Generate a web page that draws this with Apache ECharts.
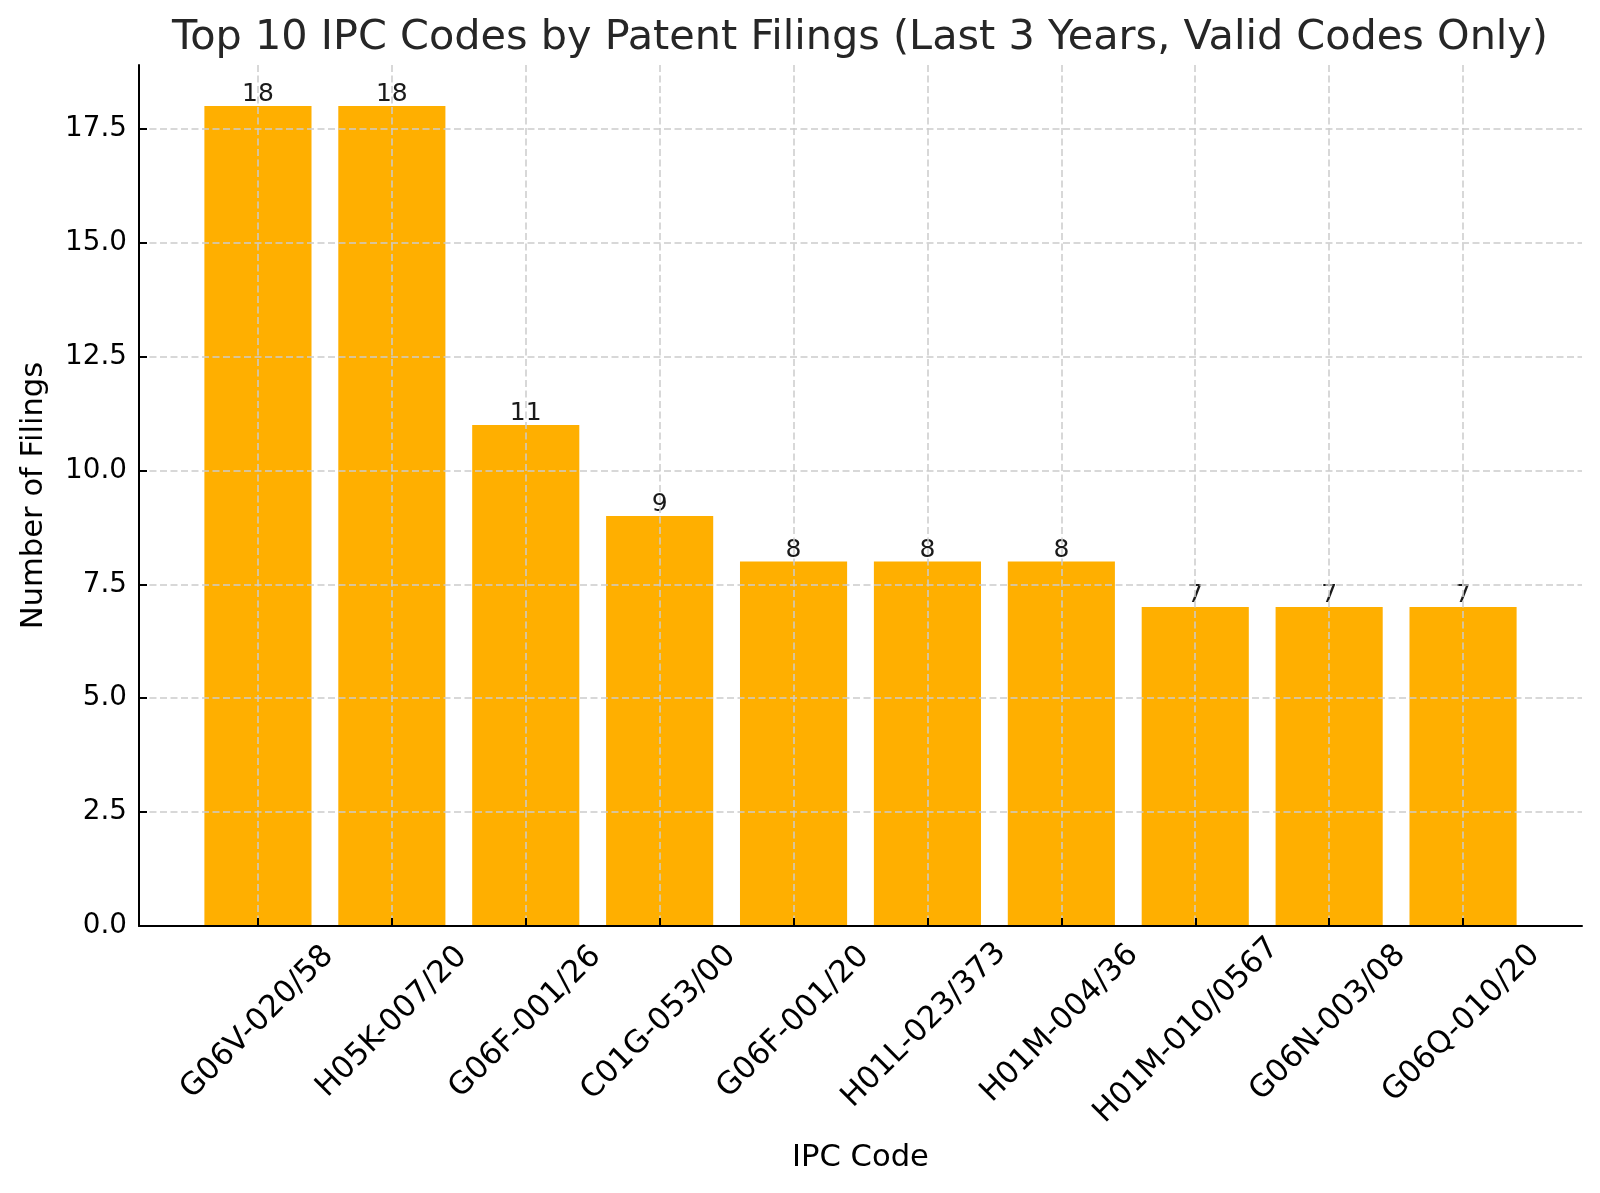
<!DOCTYPE html>
<html>
<head>
<meta charset="utf-8">
<title>Top 10 IPC Codes</title>
<script src="https://cdn.jsdelivr.net/npm/echarts@6/dist/echarts.min.js"></script>
<style>
html, body { margin: 0; padding: 0; background: #fff; }
#main { width: 1600px; height: 1193px; }
</style>
</head>
<body>
<div id="main"></div>
<script>
var codes = ['G06V-020/58', 'H05K-007/20', 'G06F-001/26', 'C01G-053/00', 'G06F-001/20',
  'H01L-023/373', 'H01M-004/36', 'H01M-010/0567', 'G06N-003/08', 'G06Q-010/20'];
var filings = [18, 18, 11, 9, 8, 8, 8, 7, 7, 7];
var yTickMax = 17.5;
var yTickStep = 2.5;
var titleText = 'Top 10 IPC Codes by Patent Filings (Last 3 Years, Valid Codes Only)';
var xName = 'IPC Code';
var yName = 'Number of Filings';

var font = 'DejaVu Sans';
var tickSize = 27.8;
var xTickSize = 30.8;
var titleSize = 41.4;
var yMax = 18.9; // 5% headroom above the tallest bar, like matplotlib

var ctx = document.createElement('canvas').getContext('2d');

// matplotlib lines up the tops of rotated labels, echarts their centres,
// so longer labels get pushed down a little
ctx.font = xTickSize + 'px "' + font + '"';
var widths = codes.map(function (c) { return ctx.measureText(c).width; });
var minW = Math.min.apply(null, widths);
var xLabels = codes.map(function (c, i) {
  var p = (widths[i] - minW) * 0.5;
  return {
    value: c,
    textStyle: { align: 'center', verticalAlign: 'middle', padding: [p, p, 0, 0] }
  };
});

// title is centred over the plot area, not the page
ctx.font = titleSize + 'px "' + font + '"';
var titleW = ctx.measureText(titleText).width;

var gridLine = { show: true, lineStyle: { color: '#cccccc', width: 1.5, type: [7, 3.5] } };
var black = { color: '#000', width: 2 };

var myChart = echarts.init(document.getElementById('main'));

var option = {
  backgroundColor: '#fff',
  textStyle: { fontFamily: font },
  title: {
    text: titleText,
    left: 860 - titleW / 2 - 5,
    top: 13,
    textStyle: { fontFamily: font, fontSize: titleSize, fontWeight: 'normal', color: '#262626' }
  },
  grid: [
    { left: 139, right: 18, top: 65, bottom: 267, outerBoundsMode: 'none' },     // spines + axis names
    { left: 191, right: 70, top: 65, bottom: 267, outerBoundsMode: 'none' },     // bars
    { left: 258, right: 137, top: 65, bottom: 267, outerBoundsMode: 'none' },    // vertical grid lines
    { left: 139, right: 18, top: 128.7, bottom: 267, outerBoundsMode: 'none' }   // horizontal grid + y ticks
  ],
  xAxis: [
    {
      gridIndex: 0, type: 'value', min: 0, max: 1, z: 6,
      axisLine: { show: true, lineStyle: black },
      axisTick: { show: false }, axisLabel: { show: false }, splitLine: { show: false },
      name: xName, nameLocation: 'middle', nameGap: 217,
      nameTextStyle: { fontFamily: font, fontSize: 30.6, color: '#000' }
    },
    {
      gridIndex: 1, type: 'category', data: xLabels, boundaryGap: true, z: 6,
      axisLine: { show: false },
      axisTick: { show: true, inside: true, alignWithLabel: true, length: 8, lineStyle: black },
      axisLabel: {
        interval: 0, rotate: 45, align: 'center', verticalAlign: 'middle', margin: 96,
        fontFamily: font, fontSize: xTickSize, color: '#000'
      },
      splitLine: { show: false }
    },
    {
      gridIndex: 2, type: 'category', data: codes, boundaryGap: false, z: 5,
      axisLine: { show: false }, axisTick: { show: false }, axisLabel: { show: false },
      splitLine: gridLine
    },
    { gridIndex: 3, type: 'value', show: false }
  ],
  yAxis: [
    {
      gridIndex: 0, type: 'value', min: 0, max: yMax, z: 6,
      axisLine: { show: true, lineStyle: black },
      axisTick: { show: false }, axisLabel: { show: false }, splitLine: { show: false },
      name: yName, nameLocation: 'middle', nameGap: 89,
      nameTextStyle: { fontFamily: font, fontSize: 30.6, color: '#000' }
    },
    { gridIndex: 1, type: 'value', min: 0, max: yMax, show: false },
    { gridIndex: 2, type: 'value', show: false },
    {
      gridIndex: 3, type: 'value', min: 0, max: yTickMax, interval: yTickStep, z: 5,
      axisLine: { show: false },
      axisTick: { show: true, inside: true, length: 8, lineStyle: black },
      axisLabel: {
        margin: 12, fontFamily: font, fontSize: tickSize, color: '#000',
        formatter: function (v) { return v.toFixed(1); }
      },
      splitLine: gridLine
    }
  ],
  series: [{
    name: 'Filings',
    type: 'bar',
    xAxisIndex: 1,
    yAxisIndex: 1,
    data: filings,
    barWidth: '80%',
    itemStyle: { color: '#FFAF00' },
    label: {
      show: true, position: 'top', distance: -1,
      fontFamily: font, fontSize: 25, color: '#1a1a1a'
    },
    z: 2
  }]
};

myChart.setOption(option);
</script>
</body>
</html>
